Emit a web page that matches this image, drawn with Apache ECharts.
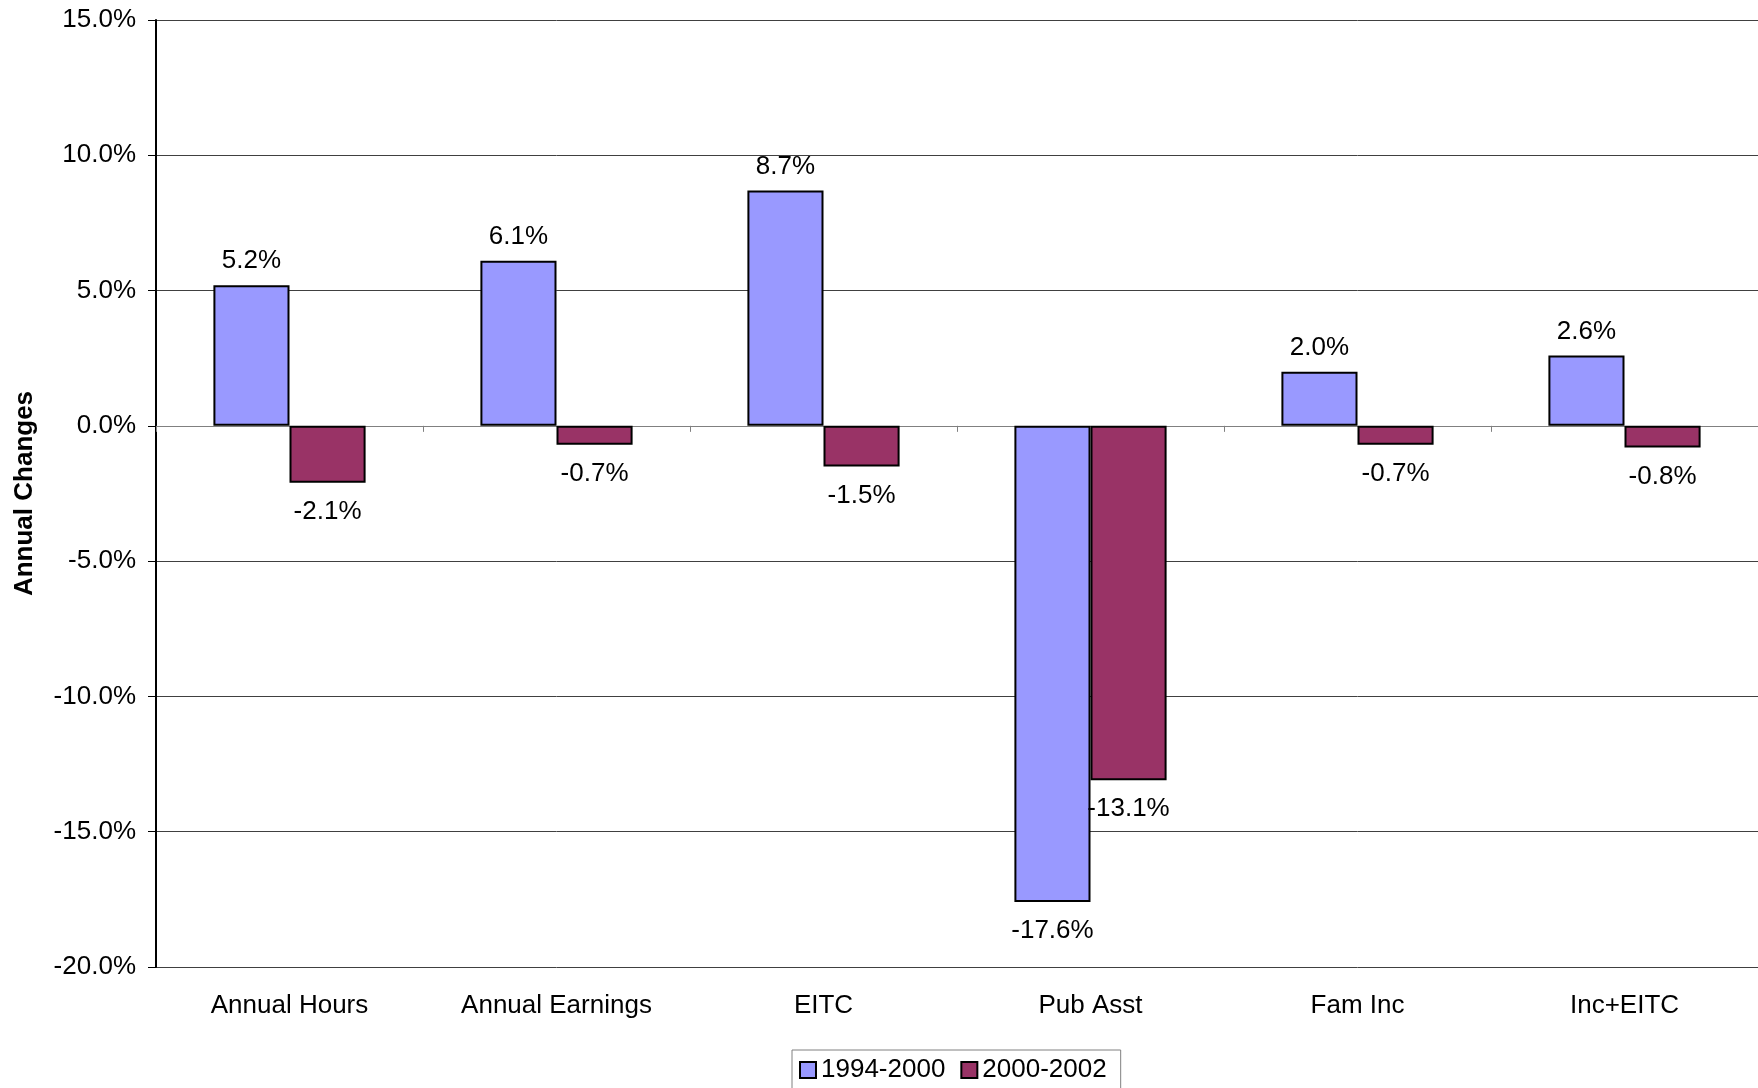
<!DOCTYPE html>
<html>
<head>
<meta charset="utf-8">
<title>Annual Changes</title>
<script src="https://cdn.jsdelivr.net/npm/echarts@6/dist/echarts.min.js"></script>
<style>
  html, body { margin: 0; padding: 0; background: #fff; }
  #main { width: 1758px; height: 1088px; }
</style>
</head>
<body>
<div id="main"></div>
<script>
// data
var categories = ['Annual Hours', 'Annual Earnings', 'EITC', 'Pub Asst', 'Fam Inc', 'Inc+EITC'];
var seriesNames = ['1994-2000', '2000-2002'];
var early = [5.2, 6.1, 8.7, -17.6, 2.0, 2.6];
var late = [-2.1, -0.7, -1.5, -13.1, -0.7, -0.8];

var FONT = 'Liberation Sans, Arial, sans-serif';

// label above positive bars, below negative ones
function withLabels(values) {
  return values.map(function (v) {
    return {
      value: v,
      label: v < 0 ? { position: 'bottom', distance: 16 } : { position: 'top', distance: 11 }
    };
  });
}

function pct(v) { return v.toFixed(1) + '%'; }

var chart = echarts.init(document.getElementById('main'));

var option = {
  animation: false,
  backgroundColor: '#fff',
  textStyle: { fontFamily: FONT },
  grid: {
    left: 156,
    top: 20,
    right: 0,
    bottom: 121,
    containLabel: false,
    outerBoundsMode: 'none'
  },
  legend: {
    data: seriesNames,
    left: 792,
    top: 1050,
    padding: [7, 14, 8, 7],
    itemGap: 15,
    itemWidth: 16,
    itemHeight: 16,
    icon: 'rect',
    borderColor: '#808080',
    borderWidth: 1,
    textStyle: { fontSize: 26, color: '#000', fontFamily: FONT }
  },
  xAxis: [{
    // zero line with the small ticks between groups
    type: 'category',
    data: categories,
    axisLine: { onZero: true, lineStyle: { color: '#808080', width: 1 } },
    axisTick: { show: true, length: 6, lineStyle: { color: '#808080' } },
    axisLabel: { show: false },
    splitLine: { show: false }
  }, {
    // labels along the bottom
    type: 'category',
    data: categories,
    position: 'bottom',
    axisLine: { show: false, onZero: false },
    axisTick: { show: false },
    axisLabel: { show: true, fontSize: 26, color: '#000', margin: 26, fontFamily: FONT }
  }],
  yAxis: {
    type: 'value',
    min: -20,
    max: 15,
    interval: 5,
    name: 'Annual Changes',
    nameLocation: 'middle',
    nameRotate: 90,
    nameGap: 118,
    nameTextStyle: { fontSize: 26, fontWeight: 'bold', color: '#000', fontFamily: FONT },
    axisLine: { show: true, lineStyle: { color: '#000', width: 2 } },
    axisTick: { show: true, length: 8, lineStyle: { color: '#000' } },
    axisLabel: {
      fontSize: 26,
      color: '#000',
      margin: 20,
      fontFamily: FONT,
      formatter: pct
    },
    splitLine: { show: true, lineStyle: { color: '#404040', width: 1 } }
  },
  series: [{
    name: seriesNames[0],
    type: 'bar',
    data: withLabels(early),
    barGap: '0%',
    barCategoryGap: '43%',
    itemStyle: { color: '#9999FF', borderColor: '#000', borderWidth: 2 },
    label: {
      show: true,
      fontSize: 26,
      color: '#000',
      fontFamily: FONT,
      formatter: function (p) { return pct(p.value); }
    }
  }, {
    name: seriesNames[1],
    type: 'bar',
    data: withLabels(late),
    barGap: '0%',
    barCategoryGap: '43%',
    itemStyle: { color: '#993366', borderColor: '#000', borderWidth: 2 },
    label: {
      show: true,
      fontSize: 26,
      color: '#000',
      fontFamily: FONT,
      formatter: function (p) { return pct(p.value); }
    }
  }]
};

chart.setOption(option);
</script>
</body>
</html>
